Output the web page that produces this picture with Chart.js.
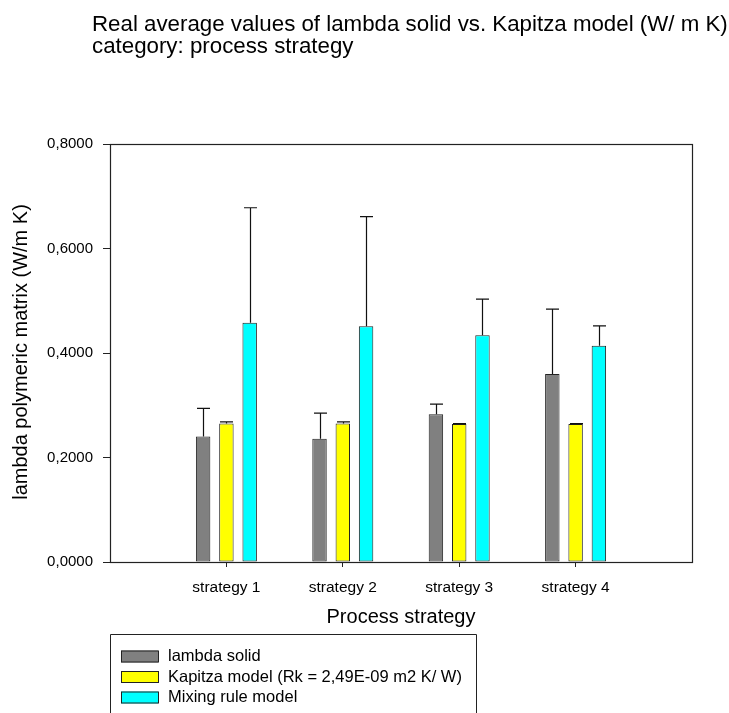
<!DOCTYPE html>
<html>
<head>
<meta charset="utf-8">
<script src="https://cdn.jsdelivr.net/npm/chart.js@4/dist/chart.umd.min.js"></script>
<style>
  html, body { margin: 0; padding: 0; background: #fff; }
  #wrap { width: 729px; height: 713px; }
</style>
</head>
<body>
<div id="wrap"><canvas id="c" width="729" height="713"></canvas></div>
<script>
// Categories (empty slots pad the axis on both sides)
const categories = ['', 'strategy 1', 'strategy 2', 'strategy 3', 'strategy 4', ''];

// Mean values per series
const lambdaSolid   = [null, 0.240, 0.236, 0.283, 0.360, null];
const kapitzaModel  = [null, 0.265, 0.265, 0.264, 0.264, null];
const mixingRule    = [null, 0.458, 0.451, 0.434, 0.414, null];

// Upper error (standard deviation) per series
const lambdaSolidErr  = [null, 0.054, 0.049, 0.019, 0.124, null];
const kapitzaModelErr = [null, 0.003, 0.003, 0.001, 0.001, null];
const mixingRuleErr   = [null, 0.220, 0.210, 0.069, 0.038, null];

// Y tick values
const yTicks = [0, 0.2, 0.4, 0.6, 0.8];

const titleLines = [
  'Real average values of lambda solid vs. Kapitza model (W/ m K)',
  'category: process strategy'
];
const seriesLabels = [
  'lambda solid',
  'Kapitza model (Rk = 2,49E-09 m2 K/ W)',
  'Mixing rule model'
];
const yAxisTitle = 'lambda polymeric matrix (W/m K)';

const FONT = '"Liberation Sans", Arial, Helvetica, sans-serif';
const fmt = v => v.toFixed(4).replace('.', ',');

// Upward error bars with caps
const errorBars = {
  id: 'errorBars',
  afterDatasetsDraw(chart) {
    const ctx = chart.ctx;
    const y = chart.scales.y;
    ctx.save();
    ctx.strokeStyle = '#111';
    ctx.lineWidth = 1.2;
    chart.data.datasets.forEach((ds, di) => {
      const meta = chart.getDatasetMeta(di);
      meta.data.forEach((bar, i) => {
        const v = ds.data[i], e = ds.errors[i];
        if (v == null || e == null) return;
        const x = Math.round(bar.x) + 0.5;
        const yTop = y.getPixelForValue(v + e);
        const yBase = y.getPixelForValue(v);
        const half = bar.width * 0.45;
        ctx.beginPath();
        ctx.moveTo(x, yBase);
        ctx.lineTo(x, yTop);
        ctx.moveTo(x - half, yTop);
        ctx.lineTo(x + half, yTop);
        ctx.stroke();
      });
    });
    ctx.restore();
  }
};

// Frame around the plot area
const frame = {
  id: 'frame',
  afterDraw(chart) {
    const a = chart.chartArea;
    const ctx = chart.ctx;
    ctx.save();
    ctx.strokeStyle = '#222';
    ctx.lineWidth = 1.2;
    ctx.strokeRect(Math.round(a.left) + 0.5, Math.round(a.top) + 0.5,
                   Math.round(a.right - a.left), Math.round(a.bottom - a.top));
    ctx.restore();
  }
};

// Two-line left-aligned heading and the rotated y-axis title
const texts = {
  id: 'texts',
  afterDraw(chart) {
    const ctx = chart.ctx;
    ctx.save();
    ctx.fillStyle = '#000';
    ctx.font = '22.3px ' + FONT;
    ctx.textBaseline = 'middle';
    ctx.textAlign = 'left';
    titleLines.forEach((t, i) => ctx.fillText(t, 92, 25 + i * 22));

    ctx.translate(21, 352);
    ctx.rotate(-Math.PI / 2);
    ctx.textAlign = 'center';
    ctx.font = '20px ' + FONT;
    ctx.fillText(yAxisTitle, 0, 0);
    ctx.restore();
  }
};

// Boxed legend under the x axis
const boxLegend = {
  id: 'boxLegend',
  afterDraw(chart) {
    const ctx = chart.ctx;
    ctx.save();
    ctx.strokeStyle = '#222';
    ctx.lineWidth = 1;
    ctx.beginPath();
    ctx.moveTo(110.5, 720);
    ctx.lineTo(110.5, 634.5);
    ctx.lineTo(476.5, 634.5);
    ctx.lineTo(476.5, 720);
    ctx.stroke();
    ctx.font = '16.5px ' + FONT;
    ctx.textBaseline = 'middle';
    ctx.textAlign = 'left';
    chart.data.datasets.forEach((ds, i) => {
      const cy = 656.5 + i * 20.5;
      ctx.fillStyle = ds.backgroundColor;
      ctx.fillRect(121, cy - 6, 37, 12);
      ctx.strokeStyle = '#222';
      ctx.strokeRect(121.5, cy - 5.5, 37, 11);
      ctx.fillStyle = '#000';
      ctx.fillText(ds.label, 168, cy);
    });
    ctx.restore();
  }
};

const mkDataset = (label, data, errors, color) => ({
  label, data, errors,
  backgroundColor: color,
  borderColor: '#222',
  borderWidth: 1,
  borderSkipped: false,
  categoryPercentage: 0.6,
  barPercentage: 0.62
});

new Chart(document.getElementById('c'), {
  type: 'bar',
  data: {
    labels: categories,
    datasets: [
      mkDataset(seriesLabels[0], lambdaSolid, lambdaSolidErr, '#808080'),
      mkDataset(seriesLabels[1], kapitzaModel, kapitzaModelErr, '#ffff00'),
      mkDataset(seriesLabels[2], mixingRule, mixingRuleErr, '#00ffff')
    ]
  },
  options: {
    responsive: false,
    animation: false,
    devicePixelRatio: 1,
    layout: { padding: { top: 144, right: 37, bottom: 81, left: 0 } },
    plugins: {
      legend: { display: false },
      title: { display: false },
      tooltip: { enabled: false }
    },
    scales: {
      x: {
        offset: false,
        afterFit(s) { s.height = 70; },
        border: { display: false },
        grid: {
          offset: false,
          drawOnChartArea: false,
          drawTicks: true,
          tickLength: 5,
          tickColor: c => (c.index === 0 || c.index === categories.length - 1) ? 'rgba(0,0,0,0)' : '#222'
        },
        ticks: {
          color: '#000',
          font: { family: FONT, size: 15.5 },
          padding: 11,
          maxRotation: 0,
          autoSkip: false
        },
        title: {
          display: true,
          text: 'Process strategy',
          color: '#000',
          font: { family: FONT, size: 20 },
          padding: { top: 0, bottom: 3 }
        }
      },
      y: {
        min: 0,
        max: 0.8,
        afterFit(s) { s.width = 110; },
        afterBuildTicks(s) { s.ticks = yTicks.map(v => ({ value: v })); },
        border: { display: false },
        grid: {
          drawOnChartArea: false,
          drawTicks: true,
          tickLength: 7,
          tickColor: '#222'
        },
        ticks: {
          color: '#000',
          font: { family: FONT, size: 15 },
          padding: 10,
          callback: v => fmt(v)
        }
      }
    }
  },
  plugins: [errorBars, frame, texts, boxLegend]
});
</script>
</body>
</html>
